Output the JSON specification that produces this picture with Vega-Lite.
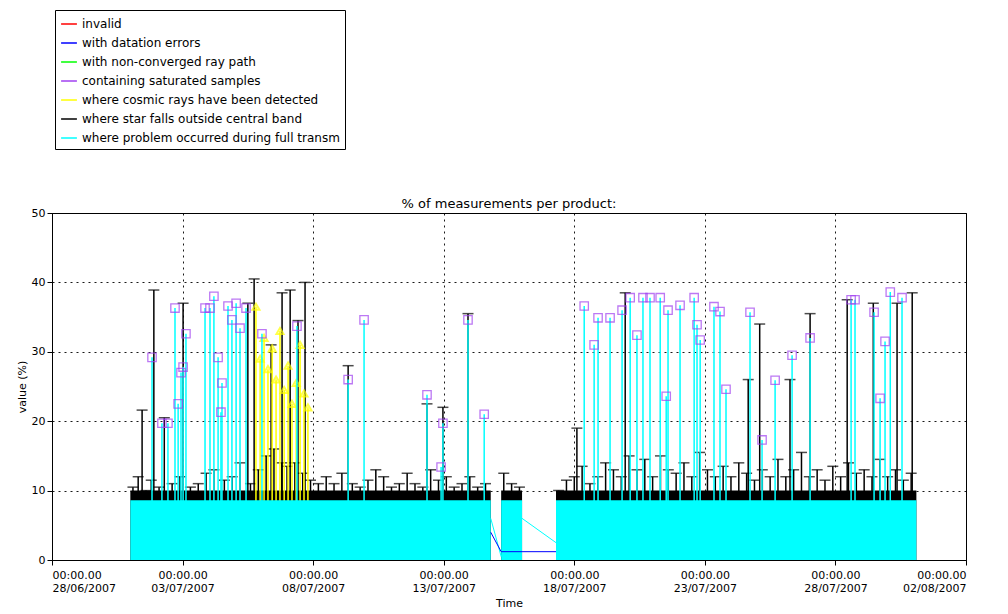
{
"$schema":"https://vega.github.io/schema/vega-lite/v6.json",
"width":914,"height":347,
"autosize":{"type":"none"},
"padding":{"left":52,"top":213,"right":42,"bottom":54},
"background":"white",
"config":{"view":{"stroke":"black"},"font":"DejaVu Sans","scale":{"continuousPadding":0},
 "axis":{"gridColor":"black","gridDash":[2,4],"gridOpacity":0.9,"domainColor":"black","tickColor":"black","labelColor":"black","titleColor":"black","labelFontSize":11,"titleFontSize":11,"titleFontWeight":"normal"}},
"title":{"text":"% of measurements per product:","fontSize":13,"fontWeight":"normal","dy":205},
"datasets":{
"blocks":[{"d0":3.0,"d1":16.8,"top":10,"cy":8.6},{"d0":17.2,"d1":18.0,"top":10,"cy":8.6},{"d0":19.3,"d1":33.1,"top":10,"cy":8.6}],
"black":[
{"d":3.1,"v":10.5},{"d":3.3,"v":12},{"d":3.6,"v":10},{"d":3.8,"v":11.5},{"d":4.1,"v":10.5},{"d":4.3,"v":20.5},{"d":4.6,"v":11},{"d":4.9,"v":12},{"d":5.3,"v":10.5},{"d":5.6,"v":11},{"d":5.9,"v":12.5},{"d":6.2,"v":13},{"d":6.6,"v":11.5},{"d":6.9,"v":12},{"d":7.2,"v":14},{"d":7.6,"v":11},{"d":7.9,"v":13},{"d":8.2,"v":15},{"d":8.5,"v":16},{"d":8.8,"v":14},{"d":9.0,"v":13.5},{"d":9.3,"v":14},{"d":9.6,"v":12.5},{"d":9.9,"v":11.5},{"d":10.2,"v":11},{"d":10.5,"v":12},{"d":10.8,"v":11},{"d":11.1,"v":12.5},{"d":11.5,"v":11},{"d":11.8,"v":10.5},{"d":12.1,"v":11.5},{"d":12.4,"v":13},{"d":12.7,"v":12},{"d":13.0,"v":10.5},{"d":13.3,"v":11},{"d":13.6,"v":12.5},{"d":13.9,"v":11},{"d":14.2,"v":10.5},{"d":14.5,"v":13},{"d":14.8,"v":11.5},{"d":15.1,"v":12},{"d":15.4,"v":10.5},{"d":15.7,"v":11},{"d":16.0,"v":12},{"d":16.3,"v":10.5},{"d":16.6,"v":11},{"d":17.3,"v":12.5},{"d":17.6,"v":11},{"d":17.9,"v":10.5},{"d":19.4,"v":10},{"d":19.7,"v":11.5},{"d":20.0,"v":12},{"d":20.3,"v":13.5},{"d":20.6,"v":11},{"d":20.9,"v":12},{"d":21.2,"v":14},{"d":21.5,"v":13},{"d":21.8,"v":12},{"d":22.1,"v":15},{"d":22.4,"v":13},{"d":22.7,"v":14.5},{"d":23.0,"v":12},{"d":23.3,"v":15},{"d":23.6,"v":13},{"d":23.9,"v":12.5},{"d":24.2,"v":14},{"d":24.5,"v":12},{"d":24.8,"v":15.5},{"d":25.1,"v":13},{"d":25.4,"v":12},{"d":25.7,"v":13.5},{"d":26.0,"v":12},{"d":26.3,"v":14},{"d":26.6,"v":12.5},{"d":26.9,"v":11.5},{"d":27.2,"v":13},{"d":27.5,"v":12},{"d":27.8,"v":14.5},{"d":28.1,"v":12},{"d":28.4,"v":13},{"d":28.7,"v":15.5},{"d":29.0,"v":12},{"d":29.3,"v":13},{"d":29.6,"v":11.5},{"d":29.9,"v":13.5},{"d":30.2,"v":12},{"d":30.5,"v":14},{"d":30.8,"v":12.5},{"d":31.1,"v":13},{"d":31.4,"v":12},{"d":31.7,"v":14.5},{"d":32.0,"v":12},{"d":32.3,"v":13},{"d":32.6,"v":11.5},{"d":32.9,"v":12.5},
{"d":3.45,"v":21.6},{"d":3.9,"v":38.9},{"d":5.02,"v":37},{"d":7.74,"v":40.5},{"d":7.5,"v":37},{"d":8.39,"v":31},{"d":8.81,"v":38.5},{"d":9.12,"v":38.9},{"d":9.42,"v":34.5},{"d":9.69,"v":40},{"d":11.34,"v":28},{"d":14.36,"v":22.5},{"d":14.97,"v":22},{"d":15.93,"v":35.5},{"d":20.1,"v":19},{"d":21.95,"v":38.5},{"d":26.66,"v":26},{"d":28.26,"v":26},{"d":29.03,"v":35.5},{"d":30.45,"v":37.5},{"d":31.45,"v":37},{"d":32.36,"v":37},{"d":32.94,"v":38.5},{"d":27.1,"v":34}],
"yellow":[{"d":7.81,"v":36.5},{"d":7.97,"v":29},{"d":8.12,"v":32},{"d":8.27,"v":27.5},{"d":8.43,"v":30.5},{"d":8.58,"v":26},{"d":8.73,"v":33},{"d":8.89,"v":24.5},{"d":9.04,"v":28},{"d":9.19,"v":22.5},{"d":9.35,"v":25.5},{"d":9.5,"v":31},{"d":9.65,"v":24},{"d":9.8,"v":22}],
"sat":[{"d":3.83,"v":29.2},{"d":4.21,"v":19.7},{"d":4.44,"v":19.7},{"d":4.71,"v":36.3},{"d":4.83,"v":22.5},{"d":4.94,"v":27},{"d":5.02,"v":27.8},{"d":5.13,"v":32.6},{"d":5.86,"v":36.3},{"d":6.05,"v":36.3},{"d":6.2,"v":38},{"d":6.36,"v":29.2},{"d":6.51,"v":25.5},{"d":6.47,"v":21.3},{"d":6.74,"v":36.6},{"d":6.89,"v":34.6},{"d":7.05,"v":37},{"d":7.2,"v":33.4},{"d":7.43,"v":36.3},{"d":8.04,"v":32.6},{"d":9.38,"v":33.7},{"d":11.34,"v":26},{"d":11.95,"v":34.6},{"d":14.36,"v":23.8},{"d":14.97,"v":19.7},{"d":14.9,"v":13.4},{"d":15.93,"v":34.6},{"d":16.55,"v":21},{"d":20.38,"v":36.6},{"d":20.76,"v":31},{"d":20.91,"v":34.9},{"d":21.37,"v":34.9},{"d":21.83,"v":36},{"d":22.14,"v":37.8},{"d":22.4,"v":32.4},{"d":22.63,"v":37.8},{"d":22.9,"v":37.8},{"d":23.29,"v":37.8},{"d":23.52,"v":23.6},{"d":23.59,"v":36},{"d":24.05,"v":36.7},{"d":24.59,"v":37.8},{"d":24.7,"v":33.9},{"d":24.82,"v":31.7},{"d":25.35,"v":36.5},{"d":25.58,"v":35.8},{"d":25.81,"v":24.6},{"d":26.73,"v":35.7},{"d":27.19,"v":17.3},{"d":27.69,"v":25.9},{"d":28.34,"v":29.5},{"d":29.03,"v":32},{"d":30.6,"v":37.5},{"d":30.75,"v":37.5},{"d":31.48,"v":35.7},{"d":31.71,"v":23.3},{"d":31.9,"v":31.5},{"d":32.1,"v":38.6},{"d":32.55,"v":37.8}],
"blue":[{"d":16.8,"v":4},{"d":17.2,"v":1.2},{"d":18.0,"v":1.2},{"d":19.3,"v":1.2}],
"cyanline":[{"d":16.8,"v":6},{"d":17.2,"v":0.5},{"d":18.0,"v":6},{"d":19.3,"v":2.5}],
"leg":[{"s":"invalid","d":0,"v":0},{"s":"with datation errors","d":0,"v":0},{"s":"with non-converged ray path","d":0,"v":0},{"s":"containing saturated samples","d":0,"v":0},{"s":"where cosmic rays have been detected","d":0,"v":0},{"s":"where star falls outside central band","d":0,"v":0},{"s":"where problem occurred during full transm","d":0,"v":0}]
},
"layer":[
{"data":{"name":"blocks"},"mark":{"type":"rect","color":"black"},"encoding":{"x":{"field":"d0","type":"quantitative","scale":{"domain":[0,35],"nice":false},
  "axis":{"values":[0,5,10,15,20,25,30,35],"grid":true,"title":"Time","labelExpr":"['00:00.00', timeFormat(datetime(2007,5,28+datum.value),'%d/%m/%Y')]","labelPadding":4}},
  "x2":{"field":"d1"},"y":{"field":"top","type":"quantitative","scale":{"domain":[0,50],"nice":false},"axis":{"values":[0,10,20,30,40,50],"grid":true,"title":"value (%)"}},"y2":{"datum":0}}},
{"data":{"name":"black"},"mark":{"type":"bar","color":"black","width":1.5},"encoding":{"x":{"field":"d","type":"quantitative"},"y":{"field":"v","type":"quantitative","stack":null}}},
{"data":{"name":"black"},"mark":{"type":"tick","orient":"horizontal","color":"black","size":11,"thickness":1.5},"encoding":{"x":{"field":"d","type":"quantitative"},"y":{"field":"v","type":"quantitative"}}},
{"data":{"name":"yellow"},"mark":{"type":"bar","color":"yellow","width":1.5},"encoding":{"x":{"field":"d","type":"quantitative"},"y":{"field":"v","type":"quantitative","stack":null}}},
{"data":{"name":"blocks"},"mark":{"type":"rect","color":"#00FFFF"},"encoding":{"x":{"field":"d0","type":"quantitative"},"x2":{"field":"d1"},"y":{"field":"cy","type":"quantitative"},"y2":{"datum":0}}},
{"data":{"name":"cyanline"},"mark":{"type":"line","color":"#00FFFF","strokeWidth":1},"encoding":{"x":{"field":"d","type":"quantitative"},"y":{"field":"v","type":"quantitative"}}},
{"data":{"name":"blue"},"mark":{"type":"line","color":"blue","strokeWidth":1},"encoding":{"x":{"field":"d","type":"quantitative"},"y":{"field":"v","type":"quantitative"}}},
{"data":{"name":"yellow"},"mark":{"type":"point","shape":"triangle-up","color":"yellow","filled":false,"size":50},"encoding":{"x":{"field":"d","type":"quantitative"},"y":{"field":"v","type":"quantitative"}}},
{"data":{"name":"sat"},"mark":{"type":"bar","color":"#00FFFF","width":1.5},"encoding":{"x":{"field":"d","type":"quantitative"},"y":{"field":"v","type":"quantitative","stack":null}}},
{"data":{"name":"sat"},"mark":{"type":"point","shape":"square","color":"#A040F0","filled":false,"size":70,"strokeWidth":1.3},"encoding":{"x":{"field":"d","type":"quantitative"},"y":{"field":"v","type":"quantitative"}}},
{"data":{"name":"leg"},"mark":{"type":"point","opacity":0},"encoding":{"x":{"field":"d","type":"quantitative"},"y":{"field":"v","type":"quantitative"},
  "color":{"field":"s","type":"nominal","scale":{"domain":["invalid","with datation errors","with non-converged ray path","containing saturated samples","where cosmic rays have been detected","where star falls outside central band","where problem occurred during full transm"],"range":["red","blue","#00FF00","#A040F0","yellow","black","#00FFFF"]},
  "legend":{"title":null,"orient":"none","legendX":3,"legendY":-203,"strokeColor":"black","fillColor":"white","padding":5,"symbolType":"stroke","symbolSize":250,"symbolStrokeWidth":1.5,"labelFontSize":12,"labelLimit":400,"rowPadding":4,"symbolOpacity":1}}}}
]
}
